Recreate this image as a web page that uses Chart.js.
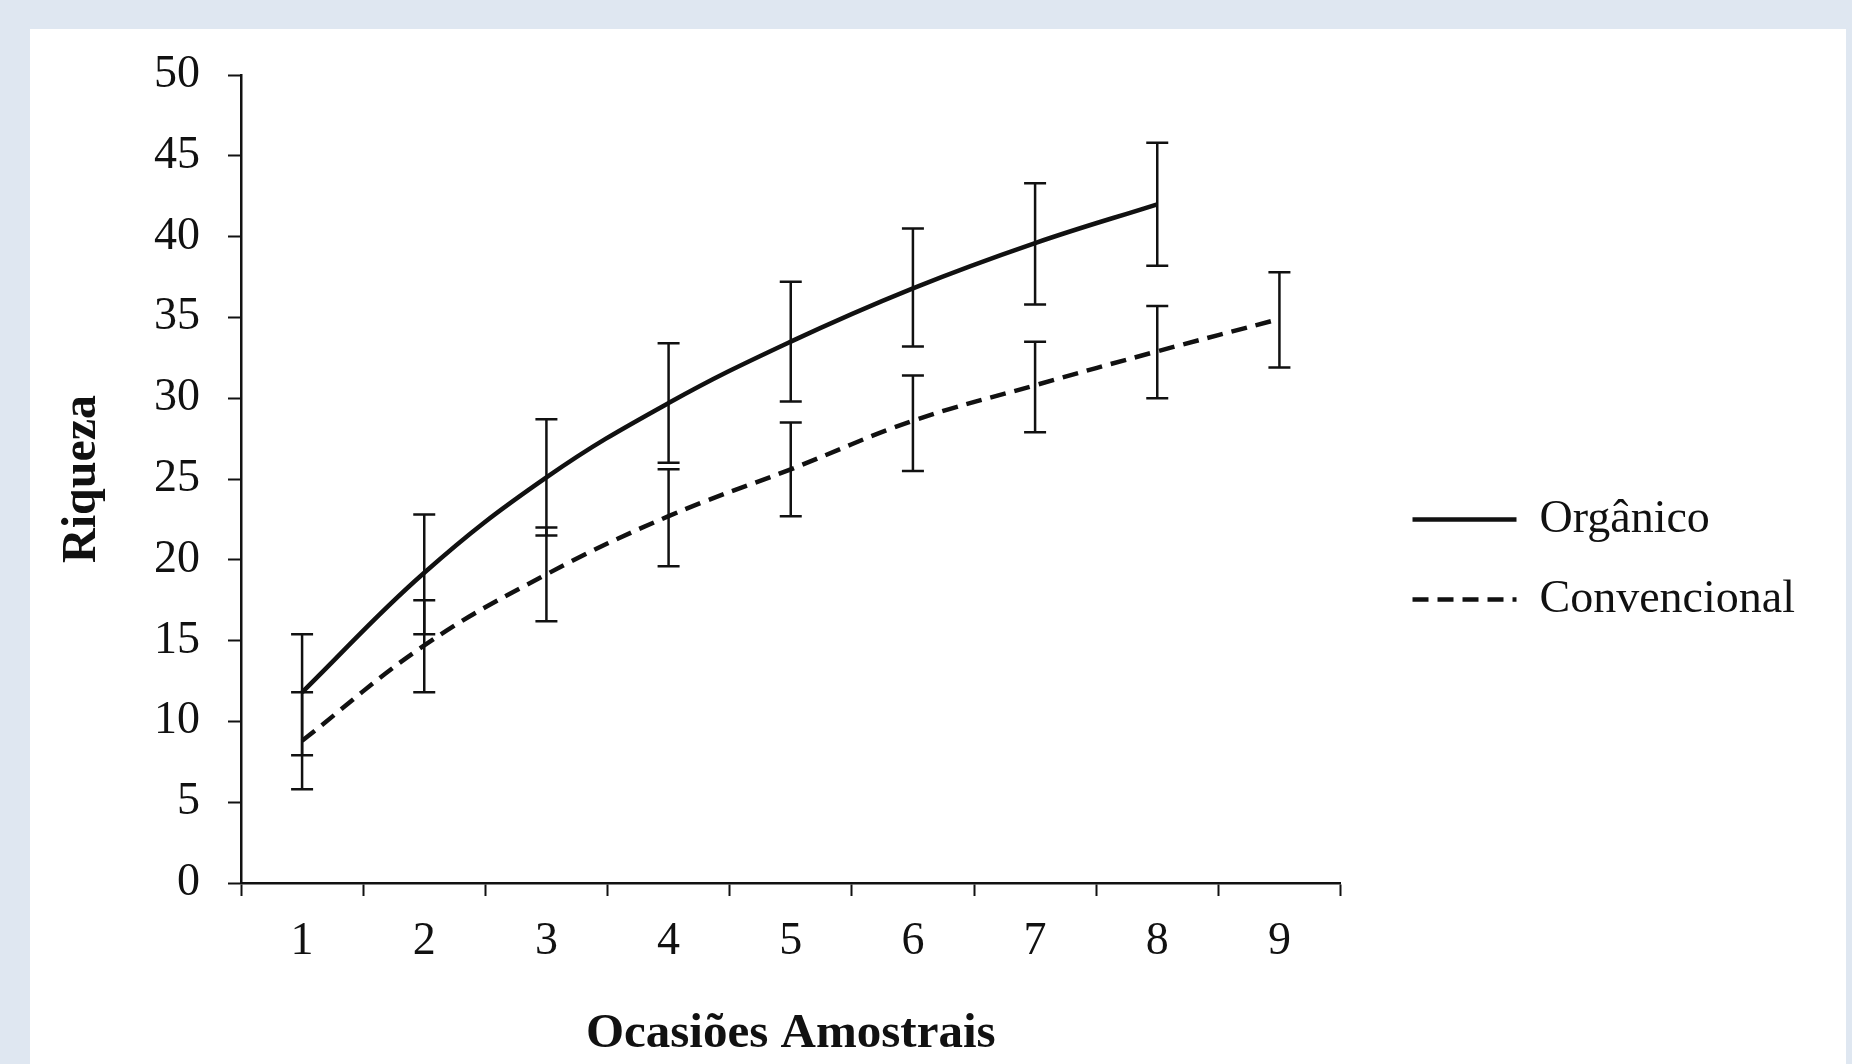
<!DOCTYPE html>
<html>
<head>
<meta charset="utf-8">
<script src="https://cdn.jsdelivr.net/npm/chart.js@4.4.1/dist/chart.umd.min.js"></script>
<style>
  html, body { margin: 0; padding: 0; }
  body { background: #dfe7f1; width: 1852px; height: 1064px; overflow: hidden; position: relative; }
  #panel { position: absolute; left: 30px; top: 29px; width: 1816px; height: 1035px; background: #fff; }
</style>
</head>
<body>
<div id="panel"><canvas id="chartId" width="1816" height="1035"></canvas></div>
<script>
// categories and series
const ocasioes = ["1", "2", "3", "4", "5", "6", "7", "8", "9"];

const organico = [11.8, 19.2, 25.1, 29.7, 33.5, 36.8, 39.6, 42.0, null];
const organicoLow = [7.9, 15.4, 21.5, 26.0, 29.8, 33.2, 35.8, 38.2, null];
const organicoHigh = [15.4, 22.8, 28.7, 33.4, 37.2, 40.5, 43.3, 45.8, null];

const convencional = [8.8, 14.7, 19.1, 22.7, 25.6, 28.6, 30.8, 32.9, 34.9];
const convencionalLow = [5.8, 11.8, 16.2, 19.6, 22.7, 25.5, 27.9, 30.0, 31.9];
const convencionalHigh = [11.8, 17.5, 22.0, 25.6, 28.5, 31.4, 33.5, 35.7, 37.8];

const yTicks = [0, 5, 10, 15, 20, 25, 30, 35, 40, 45, 50];

const serif = "'Liberation Serif', 'Times New Roman', serif";

// error bars drawn with the chart's own scales
const errorBars = {
  id: "errorBars",
  afterDatasetsDraw(chart) {
    const ctx = chart.ctx;
    const yScale = chart.scales.y;
    chart.data.datasets.forEach(function (ds, i) {
      const meta = chart.getDatasetMeta(i);
      meta.data.forEach(function (pt, j) {
        if (ds.low[j] == null) return;
        const x = pt.x;
        const yLow = yScale.getPixelForValue(ds.low[j]);
        const yHigh = yScale.getPixelForValue(ds.high[j]);
        ctx.save();
        ctx.strokeStyle = "#111";
        ctx.lineWidth = 2.5;
        ctx.beginPath();
        ctx.moveTo(x, yLow);
        ctx.lineTo(x, yHigh);
        ctx.moveTo(x - 11, yLow);
        ctx.lineTo(x + 11, yLow);
        ctx.moveTo(x - 11, yHigh);
        ctx.lineTo(x + 11, yHigh);
        ctx.stroke();
        ctx.restore();
      });
    });
  },
};

// legend lines take the dash of their dataset
function legendLabels(chart) {
  const items = Chart.defaults.plugins.legend.labels.generateLabels(chart);
  items.forEach(function (it) {
    const ds = chart.data.datasets[it.datasetIndex];
    it.lineDash = ds.borderDash || [];
    it.lineWidth = 4.5;
    it.strokeStyle = "#111";
    it.pointStyle = "line";
  });
  return items;
}

const chrt = document.getElementById("chartId").getContext("2d");

const chartId = new Chart(chrt, {
  type: "line",
  data: {
    labels: ocasioes,
    datasets: [
      {
        label: "Orgânico",
        data: organico,
        low: organicoLow,
        high: organicoHigh,
        borderColor: "#111",
        backgroundColor: "#111",
        borderWidth: 4.5,
        pointRadius: 0,
        tension: 0.4,
      },
      {
        label: "Convencional",
        data: convencional,
        low: convencionalLow,
        high: convencionalHigh,
        borderColor: "#111",
        backgroundColor: "#111",
        borderWidth: 4.5,
        borderDash: [16, 9],
        pointRadius: 0,
        tension: 0.4,
      },
    ],
  },
  options: {
    responsive: false,
    animation: false,
    layout: { padding: { top: 46, right: 41, bottom: 20, left: 0 } },
    plugins: {
      tooltip: { enabled: false },
      legend: {
        position: "right",
        align: "center",
        labels: {
          usePointStyle: true,
          pointStyleWidth: 104,
          boxHeight: 8,
          padding: 34,
          color: "#111",
          font: { family: serif, size: 46 },
          generateLabels: legendLabels,
        },
      },
    },
    scales: {
      x: {
        offset: true,
        grid: {
          display: true,
          offset: true,
          drawOnChartArea: false,
          drawTicks: true,
          tickLength: 13,
          tickWidth: 2,
          tickColor: "#111",
        },
        border: { display: true, color: "#111", width: 2.5 },
        ticks: {
          color: "#111",
          padding: 18,
          font: { family: serif, size: 46 },
        },
        title: {
          display: true,
          text: "Ocasiões Amostrais",
          color: "#111",
          padding: { top: 0, bottom: 2 },
          font: { family: serif, size: 49, weight: "bold", lineHeight: 0.3 },
        },
        afterFit: function (s) {
          s.height = 1035 - 20 - 854;
        },
      },
      y: {
        min: 0,
        max: 50,
        afterBuildTicks: function (s) {
          s.ticks = yTicks.map(function (v) { return { value: v }; });
        },
        grid: {
          display: true,
          drawOnChartArea: false,
          drawTicks: true,
          tickLength: 13,
          tickWidth: 2,
          tickColor: "#111",
        },
        border: { display: true, color: "#111", width: 2.5 },
        ticks: {
          color: "#111",
          padding: 28,
          font: { family: serif, size: 46, lineHeight: 0.7 },
        },
        title: {
          display: true,
          text: "Riqueza",
          color: "#111",
          padding: { top: 24, bottom: 0 },
          font: { family: serif, size: 48, weight: "bold" },
        },
        afterFit: function (s) {
          s.width = 211;
        },
      },
      // empty spacer between the plot and the legend
      gap: {
        type: "linear",
        position: "right",
        display: false,
        afterFit: function (s) {
          s.width = 38;
        },
      },
    },
  },
  plugins: [errorBars],
});
</script>
</body>
</html>
